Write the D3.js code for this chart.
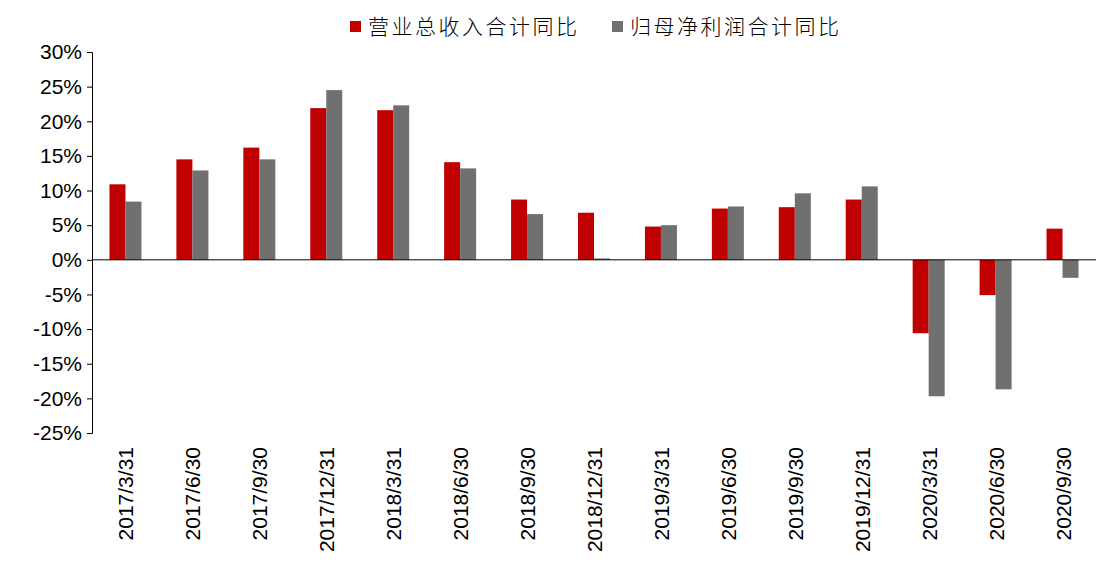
<!DOCTYPE html>
<html><head><meta charset="utf-8">
<script src="https://cdn.jsdelivr.net/npm/d3@7"></script>
<style>body{margin:0;background:#fff}text{font-family:"Liberation Sans",Arial,sans-serif}</style>
</head><body><svg width="1110" height="573"></svg>
<script>
const categories = ["2017/3/31","2017/6/30","2017/9/30","2017/12/31","2018/3/31","2018/6/30","2018/9/30","2018/12/31","2019/3/31","2019/6/30","2019/9/30","2019/12/31","2020/3/31","2020/6/30","2020/9/30"];
const revenue = [10.9,14.5,16.2,21.9,21.6,14.1,8.7,6.8,4.8,7.4,7.6,8.7,-10.6,-5.1,4.5];
const profit = [8.4,12.9,14.5,24.5,22.3,13.2,6.6,0.2,5.0,7.7,9.6,10.6,-19.7,-18.7,-2.6];
const seriesNames = ["营业总收入合计同比","归母净利润合计同比"];
const colors = ["#c00000","#707070"];
const ticks = d3.range(-25,31,5);

const svg = d3.select("svg");
const x = d3.scaleBand().domain(categories).range([92,1096]);
const y = d3.scaleLinear().domain([-25,30]).range([433,52]);

svg.append("g").attr("transform","translate(92,0)")
  .call(d3.axisLeft(y).tickValues(ticks).tickFormat(d=>d+"%").tickSize(5))
  .call(g=>{g.select(".domain").attr("stroke","#000");
    g.selectAll("text").attr("font-size",21).attr("fill","#000").attr("dx",-2);});

const bw = 16;
[revenue,profit].forEach((s,k)=>{
  svg.append("g").selectAll("rect").data(s).join("rect")
    .attr("x",(d,i)=>x(categories[i])+x.bandwidth()/2-bw+k*bw)
    .attr("y",d=>y(Math.max(0,d)))
    .attr("width",bw)
    .attr("height",d=>Math.abs(y(d)-y(0)))
    .attr("fill",colors[k]);
});

svg.append("line").attr("x1",92).attr("x2",1096).attr("y1",y(0)).attr("y2",y(0)).attr("stroke","#000");

svg.append("g").selectAll("text").data(categories).join("text")
  .attr("transform",d=>`translate(${x(d)+x.bandwidth()/2+8},447) rotate(-90)`)
  .attr("text-anchor","end").attr("font-size",21).text(d=>d);

const leg = [{x:350,n:seriesNames[0],c:colors[0]},{x:612,n:seriesNames[1],c:colors[1]}];
leg.forEach(l=>{
  svg.append("rect").attr("x",l.x).attr("y",21).attr("width",11).attr("height",11).attr("fill",l.c);
  svg.append("text").attr("x",l.x+18).attr("y",34).attr("font-size",21)
    .attr("letter-spacing",2.5)
    .style("font-family","'Noto Sans CJK SC'").style("font-weight",300).text(l.n);
});
</script></body></html>
